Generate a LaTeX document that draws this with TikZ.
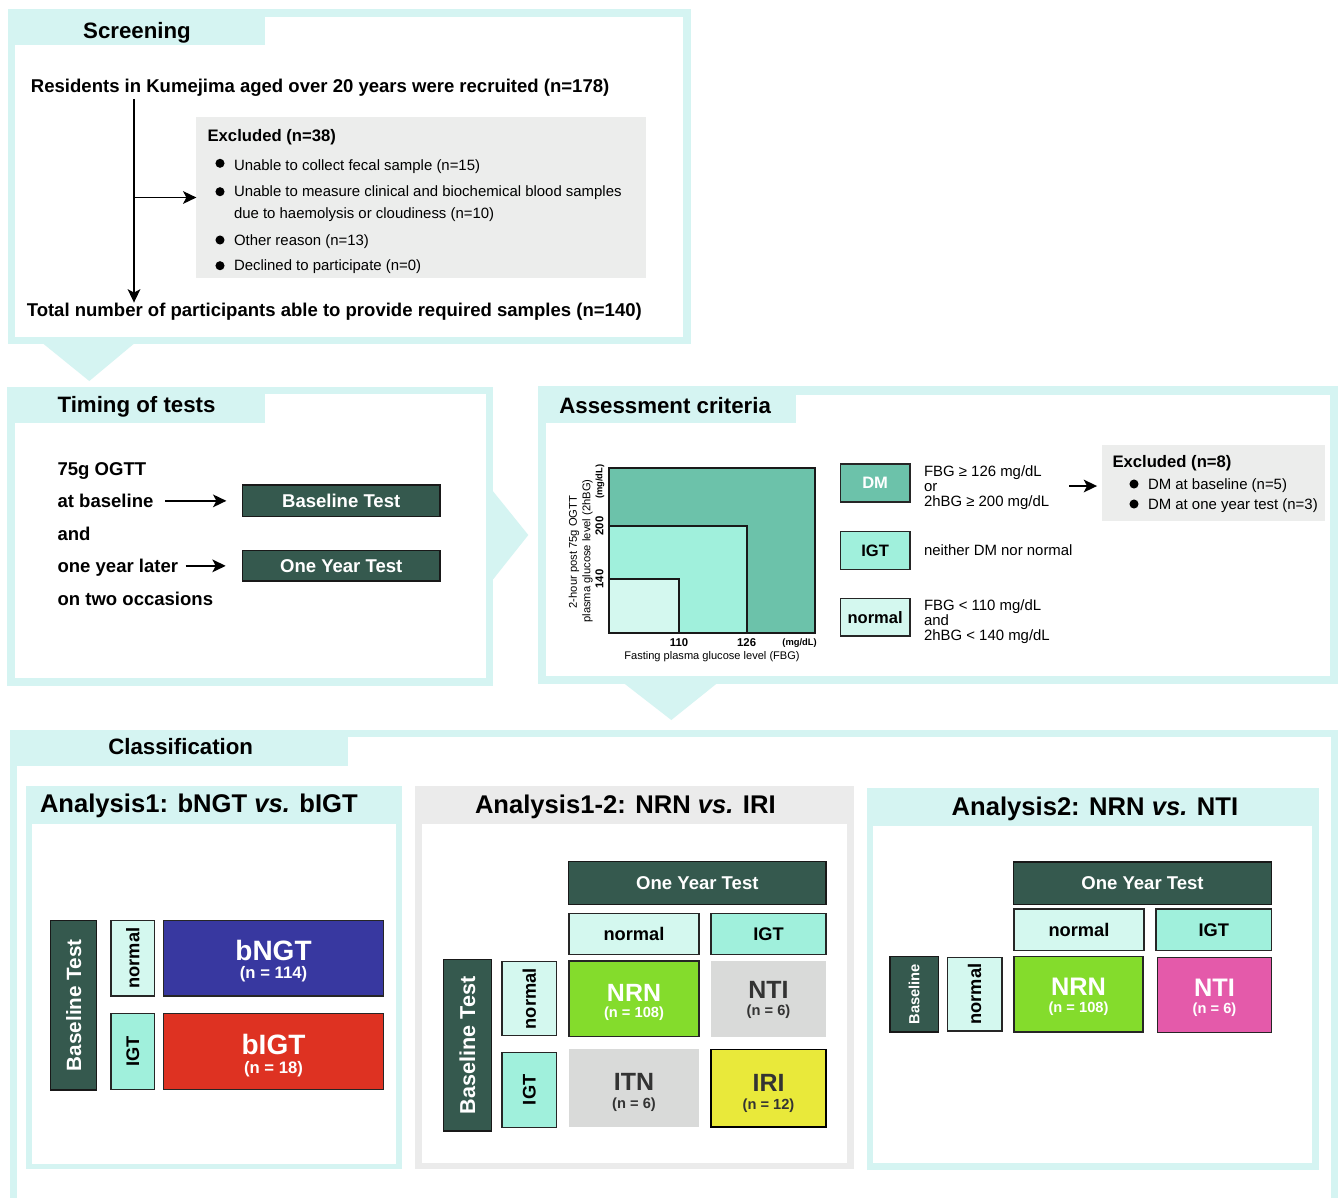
\documentclass[tikz,border=0pt]{standalone}
\usepackage{fontspec}
\setmainfont{Liberation Sans}
\usetikzlibrary{arrows.meta}
\definecolor{frame}{RGB}{213,244,242}
\definecolor{dkgreen}{RGB}{53,89,78}
\definecolor{dmcol}{RGB}{108,194,170}
\definecolor{igtcol}{RGB}{160,240,220}
\definecolor{nrmcol}{RGB}{212,248,239}
\definecolor{exgray}{RGB}{236,237,236}
\definecolor{cgray}{RGB}{217,218,217}
\definecolor{agray}{RGB}{235,235,235}
\definecolor{bngtcol}{RGB}{56,56,160}
\definecolor{bigtcol}{RGB}{222,50,34}
\definecolor{nrncol}{RGB}{132,220,44}
\definecolor{iricol}{RGB}{233,233,58}
\definecolor{nticol}{RGB}{228,90,170}
\definecolor{txtdk}{RGB}{51,51,51}
\newcommand\fsz[1]{\fontsize{#1}{#1}\selectfont}
\newcommand\fTitle{\fsz{16.7}\bfseries}
\newcommand\fMain{\fsz{13.9}\bfseries}
\newcommand\fReg{\fsz{11.2}}
\newcommand\fAna{\fsz{19.2}\bfseries}
\newcommand\bx[7]{\node[#2, minimum width={(#5-#3)*0.75pt}, minimum height={(#6-#4)*0.75pt}] (#1) at ({(#3+#5)/2},{(#4+#6)/2}) {#7};}
\tikzset{
  every node/.style={inner sep=0pt, outer sep=0pt},
  darkbox/.style={draw=black!90, line width=1.1pt, fill=dkgreen, text=white, font=\fMain},
  lbox/.style={draw=black!85, line width=1.1pt},
  chartbox/.style={draw=black!90, line width=1.4pt},
  conn/.style={line width=1.4pt, -{Stealth[length=10pt,width=9.5pt,inset=2.5pt]}},
  tl/.style={anchor=base west},
  tc/.style={anchor=base},
}
\begin{document}
\begin{tikzpicture}[x=0.75pt,y=-0.75pt]
\clip (0,0) rectangle (1338,1197);
\fill[white] (0,0) rectangle (1338,1197);
% ---------------- Screening
\fill[frame] (8,9) rectangle (691,344);
\fill[white] (15,17) rectangle (683,337);
\fill[frame] (15,17) rectangle (265,44.5);
\fill[frame] (42.4,343) -- (134.8,343) -- (89.3,381) -- cycle;
\node[tc, font=\fTitle] (tScr) at (137,38.3) {Screening};
\node[tl, font=\fMain] (recr) at (31,92.3) {Residents in Kumejima aged over 20 years were recruited (n=178)};
\node[tl, font=\fMain] (total) at (26.8,316) {Total number of participants able to provide required samples (n=140)};
\bx{excl}{fill=exgray}{196.4}{117.3}{646}{277.7}{}
\node[tl, font=\fsz{12.5}\bfseries] (exclT) at (207.6,141.7) {Excluded (n=38)};
\fill (220,163.3) circle (3.4pt);
\fill (220,191.7) circle (3.4pt);
\fill (220,240) circle (3.4pt);
\fill (220,265.7) circle (3.4pt);
\node[tl, font=\fReg] (ex1) at (234,170) {Unable to collect fecal sample (n=15)};
\node[tl, font=\fReg] (ex2) at (234,196.7) {Unable to measure clinical and biochemical blood samples};
\node[tl, font=\fReg] (ex2b) at (234,218.3) {due to haemolysis or cloudiness (n=10)};
\node[tl, font=\fReg] (ex3) at (234,245.7) {Other reason (n=13)};
\node[tl, font=\fReg] (ex4) at (234,270.7) {Declined to participate (n=0)};
\coordinate (vtop) at (134,99.3);
\draw[conn] (vtop) -- (vtop |- total.north);
\draw[conn] (vtop |- excl.west) -- (excl.west);
% ---------------- Timing
\fill[frame] (7,387) rectangle (493,686);
\fill[white] (15,394.3) rectangle (485.5,678.3);
\fill[frame] (15,394.3) rectangle (265,423);
\fill[frame] (492,490) -- (528.3,535) -- (492,580.7) -- cycle;
\node[tl, font=\fTitle] (tTim) at (57.6,412.7) {Timing of tests};
\node[tl, font=\fMain] (t1) at (57.6,475) {75g OGTT};
\node[tl, font=\fMain] (tAtb) at (57.6,507.3) {at baseline};
\node[tl, font=\fMain] (t3) at (57.6,540) {and};
\node[tl, font=\fMain] (tOyl) at (57.6,572.7) {one year later};
\node[tl, font=\fMain] (t5) at (57.6,605) {on two occasions};
\bx{blt}{darkbox}{242.4}{485}{440}{516.7}{Baseline Test}
\bx{oyt}{darkbox}{242.4}{550.7}{440}{581}{One Year Test}
\draw[conn, shorten <=9pt, shorten >=12pt] (blt.west -| tAtb.east) -- (blt.west);
\draw[conn, shorten <=5.7pt, shorten >=12.5pt] (oyt.west -| tOyl.east) -- (oyt.west);
% ---------------- Assessment
\fill[frame] (538,386) rectangle (1338,684.3);
\fill[white] (546,395) rectangle (1330,676);
\fill[frame] (546,395) rectangle (796,422.7);
\fill[frame] (624,683.3) -- (717,683.3) -- (671.3,720) -- cycle;
\node[tl, font=\fTitle] (tAss) at (559.3,413.3) {Assessment criteria};
\bx{rDM}{chartbox, fill=dmcol}{608.7}{467.7}{815.3}{633.3}{}
\bx{rIGT}{chartbox, fill=igtcol}{608.7}{526}{747.1}{633.3}{}
\bx{rN}{chartbox, fill=nrmcol}{608.7}{578.7}{679}{633.3}{}
\node[tc, font=\fsz{8.5}\bfseries] (x110) at (679,646.7) {110};
\node[tc, font=\fsz{8.5}\bfseries] (x126) at (746.6,646.7) {126};
\node[tc, font=\fsz{7}\bfseries] (xu) at (799.5,645.7) {(mg/dL)};
\node[tc, font=\fsz{8.3}] (xt) at (712,659.3) {Fasting plasma glucose level (FBG)};
\node[rotate=90, font=\fsz{8.5}\bfseries] (y140) at (599.5,579) {140};
\node[rotate=90, font=\fsz{8.5}\bfseries] (y200) at (599.5,526) {200};
\node[rotate=90, font=\fsz{7}\bfseries] (yu) at (600,481.7) {(mg/dL)};
\node[rotate=90, font=\fsz{8.4}] (yt1) at (574,552) {2-hour post 75g OGTT};
\node[rotate=90, font=\fsz{8.4}] (yt2) at (587.5,551) {plasma glucose level (2hBG)};
\bx{lDM}{lbox, fill=dmcol, text=white, font=\fsz{12.4}\bfseries}{840.3}{464}{910}{502}{DM}
\bx{lIGT}{lbox, fill=igtcol, font=\fsz{12.4}\bfseries}{840.3}{531.7}{910}{569.3}{IGT}
\bx{lN}{lbox, fill=nrmcol, font=\fsz{12.4}\bfseries}{840.3}{598.3}{910}{636}{normal}
\node[tl, font=\fReg] (c1) at (924,476.7) {FBG ≥ 126 mg/dL};
\node[tl, font=\fReg] (c2) at (924,491) {or};
\node[tl, font=\fReg] (c3) at (924,506) {2hBG ≥ 200 mg/dL};
\node[tl, font=\fReg] (c4) at (924,555.7) {neither DM nor normal};
\node[tl, font=\fReg] (c5) at (924,610.7) {FBG < 110 mg/dL};
\node[tl, font=\fReg] (c6) at (924,625.7) {and};
\node[tl, font=\fReg] (c7) at (924,640) {2hBG < 140 mg/dL};
\bx{excl2}{fill=exgray}{1102}{445}{1325}{520.7}{}
\node[tl, font=\fsz{12.5}\bfseries] (ex2T) at (1112.5,467.3) {Excluded (n=8)};
\fill (1134,484) circle (3.4pt);
\fill (1134,504) circle (3.4pt);
\node[tl, font=\fReg] (ex21) at (1148,489.3) {DM at baseline (n=5)};
\node[tl, font=\fReg] (ex22) at (1148,509.3) {DM at one year test (n=3)};
\coordinate (arrS) at (1069,486);
\draw[conn, shorten >=3.7pt] (arrS) -- (arrS -| excl2.west);
% ---------------- Classification
\fill[frame] (10,730) rectangle (1338,1210);
\fill[white] (16.7,737.3) rectangle (1330.7,1210);
\fill[frame] (16.7,737.3) rectangle (348.3,765.7);
\node[tl, font=\fTitle] (tCls) at (108.3,754.7) {Classification};
% Analysis 1
\fill[frame] (26,786) rectangle (402,1169.3);
\fill[white] (32,824) rectangle (396,1164);
\node[tl, font=\fAna] (tA1) at (40,812.7) {Analysis1: bNGT \textit{vs.} bIGT};
\bx{aBase}{darkbox}{50.7}{920.3}{96.7}{1090}{}
\node[rotate=90, text=white, font=\fsz{15.5}\bfseries] (aBaseT) at (aBase) {Baseline Test};
\bx{aNorm}{lbox, fill=nrmcol}{111}{920.3}{154.7}{996}{}
\node[rotate=90, font=\fsz{13.7}\bfseries] (aNormT) at (aNorm) {normal};
\bx{aIGT}{lbox, fill=igtcol}{111}{1013.3}{154.7}{1089.3}{}
\node[rotate=90, font=\fsz{13.7}\bfseries] (aIGTT) at (aIGT) {IGT};
\bx{aNGT}{lbox, fill=bngtcol}{163.7}{920.3}{383.3}{996}{}
\node[tc, text=white, font=\fsz{21}\bfseries] (aNGT1) at (273.5,960) {bNGT};
\node[tc, text=white, font=\fsz{12.5}\bfseries] (aNGT2) at (273.5,978) {(n = 114)};
\bx{aIGTr}{lbox, fill=bigtcol}{163.7}{1013.3}{383.3}{1089.3}{}
\node[tc, text=white, font=\fsz{21}\bfseries] (aIGT1) at (273.5,1054.3) {bIGT};
\node[tc, text=white, font=\fsz{12.5}\bfseries] (aIGT2) at (273.5,1073.3) {(n = 18)};
% Analysis 1-2
\fill[agray] (415,786) rectangle (854,1169);
\fill[white] (421.7,824) rectangle (847.3,1163.3);
\node[tl, font=\fAna] (tA12) at (475,813.3) {Analysis1-2: NRN \textit{vs.} IRI};
\bx{bOyt}{darkbox}{568.7}{861.7}{826}{904.3}{One Year Test}
\bx{bCN}{lbox, fill=nrmcol, font=\fsz{13.7}\bfseries}{569}{913.3}{699}{954.3}{normal}
\bx{bCI}{lbox, fill=igtcol, font=\fsz{13.7}\bfseries}{711}{913.3}{826}{954.3}{IGT}
\bx{bNRN}{lbox, fill=nrncol}{569}{961}{699}{1036.7}{}
\node[tc, text=white, font=\fsz{18.7}\bfseries] (bNRN1) at (634,1001) {NRN};
\node[tc, text=white, font=\fsz{11}\bfseries] (bNRN2) at (634,1017.3) {(n = 108)};
\bx{bNTI}{fill=cgray}{711}{961}{826}{1036.7}{}
\node[tc, text=txtdk, font=\fsz{18.7}\bfseries] (bNTI1) at (768.5,998.3) {NTI};
\node[tc, text=txtdk, font=\fsz{11}\bfseries] (bNTI2) at (768.5,1015) {(n = 6)};
\bx{bITN}{fill=cgray}{569}{1049}{699}{1126.7}{}
\node[tc, text=txtdk, font=\fsz{18.7}\bfseries] (bITN1) at (634,1090.7) {ITN};
\node[tc, text=txtdk, font=\fsz{11}\bfseries] (bITN2) at (634,1108.3) {(n = 6)};
\bx{bIRI}{lbox, draw=black, fill=iricol}{711}{1049.7}{826}{1127}{}
\node[tc, text=txtdk, font=\fsz{18.7}\bfseries] (bIRI1) at (768.5,1091.7) {IRI};
\node[tc, text=txtdk, font=\fsz{11}\bfseries] (bIRI2) at (768.5,1109.3) {(n = 12)};
\bx{bBase}{darkbox}{443.3}{959.3}{491.7}{1131}{}
\node[rotate=90, text=white, font=\fsz{16.2}\bfseries] (bBaseT) at (bBase) {Baseline Test};
\bx{bRN}{lbox, fill=nrmcol}{502}{961.7}{556.7}{1035.7}{}
\node[rotate=90, font=\fsz{13.7}\bfseries] (bRNT) at (bRN) {normal};
\bx{bRI}{lbox, fill=igtcol}{502}{1052.3}{556.7}{1127.3}{}
\node[rotate=90, font=\fsz{13.7}\bfseries] (bRIT) at (bRI) {IGT};
% Analysis 2
\fill[frame] (866.7,788.3) rectangle (1319,1170);
\fill[white] (873,826) rectangle (1312,1163.3);
\node[tl, font=\fAna] (tA2) at (951.7,815) {Analysis2: NRN \textit{vs.} NTI};
\bx{cOyt}{darkbox}{1013.3}{862}{1271.7}{904.3}{One Year Test}
\bx{cCN}{lbox, fill=nrmcol, font=\fsz{13.7}\bfseries}{1014}{909}{1144}{950.7}{normal}
\bx{cCI}{lbox, fill=igtcol, font=\fsz{13.7}\bfseries}{1156}{909}{1271.7}{950.7}{IGT}
\bx{cNRN}{lbox, fill=nrncol}{1014}{956.7}{1143}{1032}{}
\node[tc, text=white, font=\fsz{19}\bfseries] (cNRN1) at (1078.5,995) {NRN};
\node[tc, text=white, font=\fsz{11}\bfseries] (cNRN2) at (1078.5,1012.3) {(n = 108)};
\bx{cNTI}{lbox, fill=nticol}{1157.3}{957.3}{1271.7}{1032.3}{}
\node[tc, text=white, font=\fsz{19}\bfseries] (cNTI1) at (1214.5,996) {NTI};
\node[tc, text=white, font=\fsz{11}\bfseries] (cNTI2) at (1214.5,1013.3) {(n = 6)};
\bx{cBase}{darkbox}{890}{956.7}{938.3}{1032}{}
\node[rotate=90, text=white, font=\fsz{11}\bfseries] (cBaseT) at (cBase) {Baseline};
\bx{cRN}{lbox, fill=nrmcol}{947.3}{957.3}{1002}{1031}{}
\node[rotate=90, font=\fsz{13.7}\bfseries] (cRNT) at (cRN) {normal};
\end{tikzpicture}
\end{document}
